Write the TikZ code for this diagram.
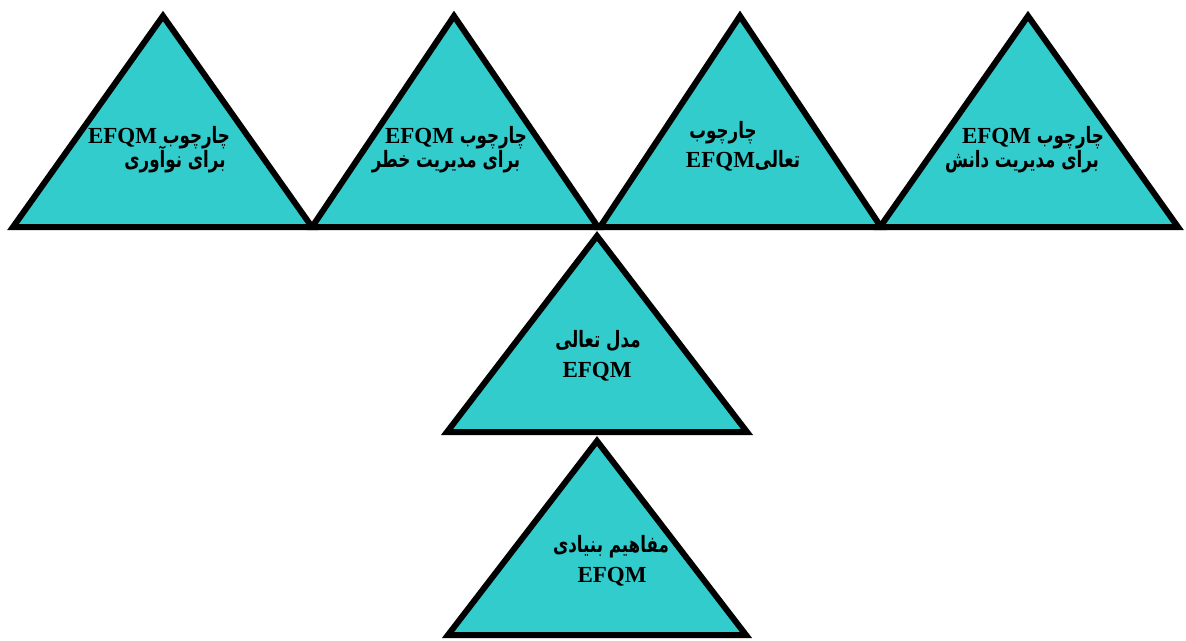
\documentclass[tikz,border=0pt]{standalone}
\usepackage{fontspec}
\setmainfont{Liberation Serif}
\newfontfamily\arabicfont[Script=Arabic,Scale=0.98,FakeStretch=0.74]{DejaVu Sans}
\TeXXeTstate=1
\definecolor{tri}{RGB}{51,204,204}
\tikzset{
  tribox/.style={fill=tri, draw=black, line width=6pt, line join=miter},
  lbl/.style={anchor=base, inner sep=0pt, font=\fontsize{23}{28}\selectfont\bfseries}
}
\newcommand{\ar}[1]{{\arabicfont\bfseries\beginR #1\endR}}
\newcommand{\arl}[2]{{\arabicfont\bfseries\beginR #1\beginL{\rmfamily\bfseries #2}\endL\endR}}
\begin{document}
\begin{tikzpicture}[x=1pt,y=-1pt]
\useasboundingbox (0,0) rectangle (1186,640);
% top row
\draw[tribox] (163,16) -- (13,227) -- (312,227) -- cycle;
\draw[tribox] (454,16) -- (312,227) -- (598,227) -- cycle;
\draw[tribox] (740,16) -- (600,227) -- (881,227) -- cycle;
\draw[tribox] (1028,16) -- (880,227) -- (1178,227) -- cycle;
% middle and bottom
\draw[tribox] (597,236) -- (447,432) -- (747,432) -- cycle;
\draw[tribox] (597,441) -- (448,635) -- (746,635) -- cycle;
% labels
\node[lbl] (t1a) at (159,143) {\arl{چارچوب }{EFQM}};
\node[lbl] (t1b) at (175,167) {\ar{برای نوآوری}};
\node[lbl] (t2a) at (456,143) {\arl{چارچوب }{EFQM}};
\node[lbl] (t2b) at (446,167) {\ar{برای مدیریت خطر}};
\node[lbl] (t3a) at (723,138) {\ar{چارچوب}};
\node[lbl] (t3b) at (743,167) {\arl{تعالی}{EFQM}};
\node[lbl] (t4a) at (1033,143) {\arl{چارچوب }{EFQM}};
\node[lbl] (t4b) at (1022,167) {\ar{برای مدیریت دانش}};
\node[lbl] (m1) at (598,347) {\ar{مدل تعالی}};
\node[lbl] (m2) at (597,377) {EFQM};
\node[lbl] (b1) at (611,552) {\ar{مفاهیم بنیادی}};
\node[lbl] (b2) at (612,582) {EFQM};
\end{tikzpicture}
\end{document}
